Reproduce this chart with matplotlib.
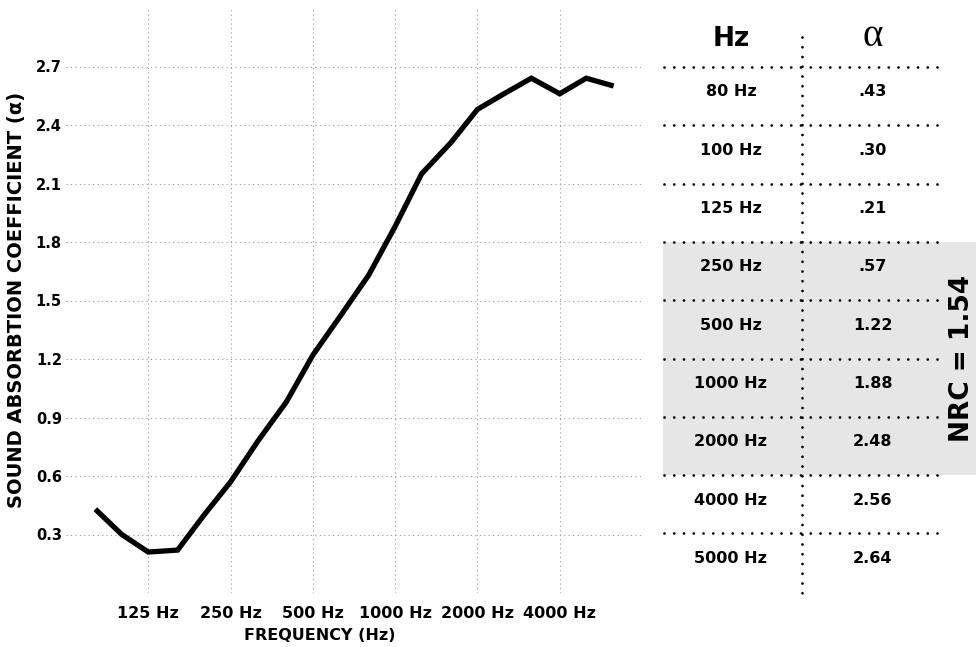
import matplotlib
matplotlib.use("Agg")
import matplotlib.pyplot as plt
from matplotlib.ticker import NullLocator, FixedLocator, FixedFormatter

# 1/3 octave absorption curve
freqs = [80, 100, 125, 160, 200, 250, 315, 400, 500, 630, 800, 1000,
         1250, 1600, 2000, 2500, 3150, 4000, 5000, 6300]
alpha = [0.43, 0.30, 0.21, 0.22, 0.40, 0.57, 0.78, 0.98, 1.22, 1.42, 1.63, 1.88,
         2.15, 2.31, 2.48, 2.56, 2.64, 2.56, 2.64, 2.60]

xtick_freqs = [125, 250, 500, 1000, 2000, 4000]
xtick_labels = ["125 Hz", "250 Hz", "500 Hz", "1000 Hz", "2000 Hz", "4000 Hz"]
yticks = [0.3, 0.6, 0.9, 1.2, 1.5, 1.8, 2.1, 2.4, 2.7]

# table on the right
table_hz = ["80 Hz", "100 Hz", "125 Hz", "250 Hz", "500 Hz",
            "1000 Hz", "2000 Hz", "4000 Hz", "5000 Hz"]
table_alpha = [".43", ".30", ".21", ".57", "1.22", "1.88", "2.48", "2.56", "2.64"]
nrc_rows = [3, 4, 5, 6]   # 250..2000 Hz rows

W, H = 976, 647
fig = plt.figure(figsize=(W / 100, H / 100), dpi=100)

ax = fig.add_axes([66 / W, 1 - 593 / H, 576 / W, 585 / H])
ax.set_facecolor("none")
ax.plot(freqs, alpha, color="black", lw=3.8, solid_joinstyle="miter",
        solid_capstyle="butt", zorder=3)
ax.set_xscale("log", base=2)
ax.set_xlim(62.5, 8000)
ax.set_ylim(0, 3)
ax.xaxis.set_major_locator(FixedLocator(xtick_freqs))
ax.xaxis.set_major_formatter(FixedFormatter(xtick_labels))
ax.xaxis.set_minor_locator(NullLocator())
ax.set_yticks(yticks)
ax.set_yticklabels(["%.1f" % v for v in yticks])
for s in ax.spines.values():
    s.set_visible(False)
ax.grid(True, color="#9a9a9a", lw=0.8, linestyle=(0, (1, 3)))
ax.tick_params(axis="both", length=0)
ax.tick_params(axis="x", pad=9, labelsize=11.5)
ax.tick_params(axis="y", pad=3, labelsize=10.5)
for lab in ax.get_xticklabels() + ax.get_yticklabels():
    lab.set_fontweight("bold")

fig.text(17 / W, 1 - 300 / H, "SOUND ABSORBTION COEFFICIENT (α)", rotation=90,
         ha="center", va="center", fontsize=14, fontweight="bold")
fig.text(320 / W, 1 - 636 / H, "FREQUENCY (Hz)", ha="center", va="center",
         fontsize=11.5, fontweight="bold")

# table drawn in pixel coordinates
tb = fig.add_axes([0, 0, 1, 1])
tb.set_xlim(0, W)
tb.set_ylim(H, 0)
tb.axis("off")

row0, row_h = 67, 58.3
col1, col2, divider = 731, 873, 802
x0, x1 = 664, 942

band_top = row0 + nrc_rows[0] * row_h
band_bot = row0 + (nrc_rows[-1] + 1) * row_h
tb.fill_between([663, W], band_top, band_bot, color="#e6e6e6", lw=0, zorder=0)

dots = dict(color="black", lw=2.0, linestyle=(0, (0.01, 3.5)),
            dash_capstyle="round", zorder=2)
for i in range(len(table_hz)):
    y = row0 + i * row_h
    tb.plot([x0, x1], [y, y], **dots)
    tb.text(col1, y + 25, table_hz[i], ha="center", va="center",
            fontsize=11.5, fontweight="bold")
    tb.text(col2, y + 25, table_alpha[i], ha="center", va="center",
            fontsize=11.5, fontweight="bold")
tb.plot([divider, divider], [37, 593], **dots)

tb.text(col1, 39, "Hz", ha="center", va="center", fontsize=19, fontweight="bold")
tb.text(col2, 36, "α", ha="center", va="center", fontsize=28,
        family="Liberation Serif")

nrc = sum(alpha[freqs.index(f)] for f in [250, 500, 1000, 2000]) / 4
tb.text(962, (band_top + band_bot) / 2, "NRC = %.2f" % nrc, rotation=90,
        ha="center", va="center", fontsize=19, fontweight="bold")

fig.savefig("out.png", dpi=100)
